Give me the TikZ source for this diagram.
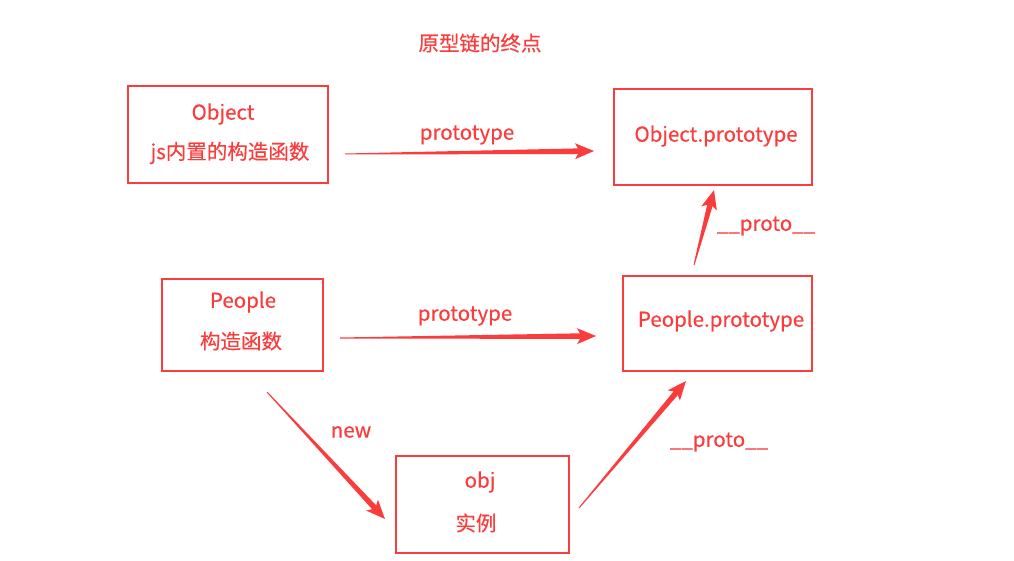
\documentclass[tikz,border=0pt]{standalone}
\usepackage{fontspec}
\setmainfont{Noto Sans CJK SC}
\newfontfamily\rfont{Noto Sans CJK SC}[FakeBold=0.4]
\usetikzlibrary{calc}
\definecolor{rd}{RGB}{250,60,60}
\tikzset{
  box/.style={draw=rd, line width=2.4pt, rectangle, inner sep=0pt},
  txt/.style={text=rd, font=\rfont\fontsize{20.5}{24}\selectfont, inner sep=0pt, anchor=center},
}
\newcommand\taperarrow[2]{%
  \fill[rd] let \p1=($(#2)-(#1)$), \n1={atan2(\y1,\x1)}, \n2={veclen(\x1,\y1)} in
  [shift={(#1)}, rotate=\n1]
  (0pt,0.5pt) -- ({\n2*1pt-16pt},2.8pt) -- ({\n2*1pt-19pt},8pt) -- ({\n2*1pt},0pt)
  -- ({\n2*1pt-19pt},-8pt) -- ({\n2*1pt-16pt},-2.8pt) -- (0pt,-0.5pt) -- cycle;}
\begin{document}
\begin{tikzpicture}[x=1pt,y=-1pt]
\useasboundingbox (0,0) rectangle (1014,561);
% title
\node[txt] (title) at (480,43) {原型链的终点};
% boxes
\node[box, minimum width=200pt, minimum height=97pt] (objB) at (228,134.5) {};
\node[box, minimum width=198pt, minimum height=96pt] (objP) at (713,137) {};
\node[box, minimum width=161pt, minimum height=92pt] (peoB) at (242.5,325) {};
\node[box, minimum width=189pt, minimum height=95pt] (peoP) at (717.5,323.5) {};
\node[box, minimum width=173pt, minimum height=97pt] (inst) at (482.5,504.5) {};
% box texts
\node[txt] (t1) at (223,114) {Object};
\node[txt] (t2) at (230,153) {js内置的构造函数};
\node[txt] (t3) at (716,136) {Object.prototype};
\node[txt] (t4) at (243,302) {People};
\node[txt] (t5) at (241,341) {构造函数};
\node[txt] (t6) at (721,321) {People.prototype};
\node[txt] (t7) at (480,482) {obj};
\node[txt] (t8) at (476,523) {实例};
% arrow end points
\coordinate (a1s) at (345,154);
\coordinate (a1e) at (594,151);
\coordinate (a2s) at (340,338);
\coordinate (a2e) at (596,336);
\coordinate (a3s) at (267,392);
\coordinate (a3e) at (385,519);
\coordinate (a4s) at (579,508);
\coordinate (a4e) at (686,381);
\coordinate (a5s) at (694,265);
\coordinate (a5e) at (714,190);
\taperarrow{a1s}{a1e}
\taperarrow{a2s}{a2e}
\taperarrow{a3s}{a3e}
\taperarrow{a4s}{a4e}
\taperarrow{a5s}{a5e}
% labels
\node[txt] (l1) at (467,135) {prototype};
\node[txt] (l2) at (465,316) {prototype};
\node[txt] (l3) at (351,432) {new};
\node[txt] (l4) at (719,442) {\_\_proto\_\_};
\node[txt] (l5) at (766,226) {\_\_proto\_\_};
\end{tikzpicture}
\end{document}
